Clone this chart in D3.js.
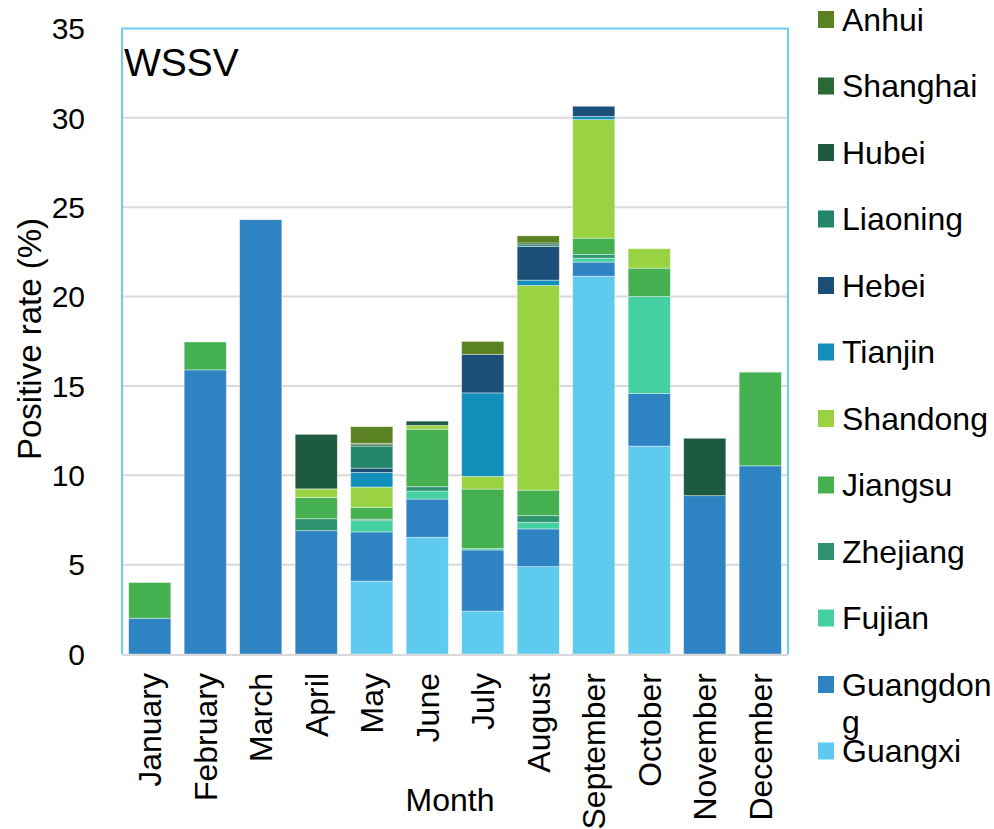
<!DOCTYPE html>
<html>
<head>
<meta charset="utf-8">
<script src="https://cdn.jsdelivr.net/npm/d3@7"></script>
<style>
  body { margin: 0; background: #fff; }
  text { font-family: "Liberation Sans", Arial, sans-serif; fill: #000; }
</style>
</head>
<body>
<svg id="chart" width="994" height="829"></svg>
<script>

// months on the x axis
var months = ["January", "February", "March", "April", "May", "June",
              "July", "August", "September", "October", "November", "December"];

// provinces, bottom of the stack first
var provinces = ["Guangxi", "Guangdong", "Fujian", "Zhejiang", "Jiangsu", "Shandong",
                 "Tianjin", "Hebei", "Liaoning", "Hubei", "Shanghai", "Anhui"];

var colors = ["#5ecbee", "#2e83c3", "#44d0a3", "#2e9470", "#44b050", "#99d343",
              "#138fbb", "#1c4f77", "#21866a", "#1e5a40", "#2a6b35", "#5b8222"];

// positive rate (%) per month, one array per province
var guangxi   = [0, 0, 0, 0, 4.08, 6.53, 2.40, 4.89, 21.14, 11.63, 0, 0];
var guangdong = [2.0, 15.9, 24.3, 6.9, 2.75, 2.14, 3.42, 2.11, 0.79, 2.94, 8.86, 10.53];
var fujian    = [0, 0, 0, 0, 0.63, 0.45, 0.08, 0.37, 0.22, 5.43, 0, 0];
var zhejiang  = [0, 0, 0, 0.67, 0.08, 0.24, 0, 0.37, 0.20, 0, 0, 0];
var jiangsu   = [2.0, 1.56, 0, 1.19, 0.67, 3.22, 3.33, 1.43, 0.92, 1.59, 0, 5.24];
var shandong  = [0, 0, 0, 0.48, 1.13, 0.21, 0.71, 11.45, 6.63, 1.09, 0, 0];
var tianjin   = [0, 0, 0, 0, 0.82, 0, 4.67, 0.30, 0.18, 0, 0, 0];
var hebei     = [0, 0, 0, 0, 0.24, 0, 2.16, 1.88, 0.57, 0, 0, 0];
var liaoning  = [0, 0, 0, 0, 1.23, 0, 0, 0.10, 0, 0, 0, 0];
var hubei     = [0, 0, 0, 3.05, 0.08, 0.24, 0, 0.10, 0, 0, 3.21, 0];
var shanghai  = [0, 0, 0, 0, 0.08, 0, 0, 0, 0, 0, 0, 0];
var anhui     = [0, 0, 0, 0, 0.93, 0, 0.72, 0.40, 0, 0, 0, 0];

var yTicks = [0, 5, 10, 15, 20, 25, 30, 35];

var seriesValues = [guangxi, guangdong, fujian, zhejiang, jiangsu, shandong,
                    tianjin, hebei, liaoning, hubei, shanghai, anhui];

// build rows for d3.stack
var rows = months.map(function (m, i) {
    var r = { month: m };
    provinces.forEach(function (p, j) { r[p] = seriesValues[j][i]; });
    return r;
});

var svg = d3.select("#chart");

// plot box (note: "top" is taken by window.top, so use other names)
var plotL = 122, plotR = 788, plotT = 28.5, plotB = 654;

var x = d3.scaleBand()
    .domain(months)
    .range([plotL, plotR])
    .paddingInner(0.24)
    .paddingOuter(0.12);

var y = d3.scaleLinear()
    .domain([0, 35])
    .range([plotB, plotT]);

var color = d3.scaleOrdinal().domain(provinces).range(colors);

// gridlines
svg.append("g")
    .selectAll("line")
    .data(yTicks.filter(function (t) { return t > 0 && t < 35; }))
    .enter()
    .append("line")
    .attr("x1", plotL).attr("x2", plotR)
    .attr("y1", function (d) { return y(d); })
    .attr("y2", function (d) { return y(d); })
    .attr("stroke", "#d9d9d9")
    .attr("stroke-width", 2);

// stacked bars
var stacked = d3.stack().keys(provinces)(rows);

svg.append("g")
    .selectAll("g")
    .data(stacked)
    .enter()
    .append("g")
    .attr("fill", function (d) { return color(d.key); })
    .selectAll("rect")
    .data(function (d) { return d.filter(function (s) { return s[1] - s[0] > 0; }); })
    .enter()
    .append("rect")
    .attr("x", function (d) { return x(d.data.month); })
    .attr("y", function (d) { return y(d[1]); })
    .attr("width", x.bandwidth())
    .attr("height", function (d) { return y(d[0]) - y(d[1]); })
    .attr("stroke", "#ffffff")
    .attr("stroke-width", 0.8)
    .attr("stroke-opacity", 0.5);

// plot border: light blue left/top/right, grey bottom axis
svg.append("path")
    .attr("d", "M" + plotL + "," + plotB + "V" + plotT + "H" + plotR + "V" + plotB)
    .attr("fill", "none")
    .attr("stroke", "#6ccdf0")
    .attr("stroke-width", 2);

svg.append("line")
    .attr("x1", plotL).attr("x2", plotR)
    .attr("y1", plotB + 1).attr("y2", plotB + 1)
    .attr("stroke", "#d9d9d9")
    .attr("stroke-width", 2);

// y tick labels
svg.append("g")
    .selectAll("text")
    .data(yTicks)
    .enter()
    .append("text")
    .attr("x", 85)
    .attr("y", function (d) { return y(d); })
    .attr("dy", "0.36em")
    .attr("text-anchor", "end")
    .style("font-size", "30px")
    .text(function (d) { return d; });

// x tick labels, rotated
svg.append("g")
    .selectAll("text")
    .data(months)
    .enter()
    .append("text")
    .attr("transform", function (d) {
        return "translate(" + (x(d) + x.bandwidth() / 2) + "," + 673 + ") rotate(-90)";
    })
    .attr("dy", "0.36em")
    .attr("text-anchor", "end")
    .style("font-size", "32px")
    .text(function (d) { return d; });

// axis titles
svg.append("text")
    .attr("transform", "translate(41,339) rotate(-90)")
    .attr("text-anchor", "middle")
    .style("font-size", "33px")
    .text("Positive rate (%)");

svg.append("text")
    .attr("x", 450)
    .attr("y", 811)
    .attr("text-anchor", "middle")
    .style("font-size", "32px")
    .text("Month");

svg.append("text")
    .attr("x", 124)
    .attr("y", 76)
    .style("font-size", "39px")
    .text("WSSV");

// legend, top entry is the top of the stack
var legendItems = provinces.slice().reverse();
var legend = svg.append("g")
    .selectAll("g")
    .data(legendItems)
    .enter()
    .append("g")
    .attr("transform", function (d, i) { return "translate(818," + (19.5 + i * 66.5) + ")"; });

legend.append("rect")
    .attr("x", 0).attr("y", -8.5)
    .attr("width", 16).attr("height", 17)
    .attr("fill", function (d) { return color(d); });

legend.append("text")
    .attr("x", 24)
    .attr("y", 11)
    .style("font-size", "32px")
    .each(function (d) {
        // wrap by characters when the name is wider than the space left
        var t = d3.select(this), maxW = 152;
        t.text(d);
        if (this.getComputedTextLength() <= maxW) return;
        t.text(null);
        var lines = [], cur = "";
        var probe = t.append("tspan");
        for (var k = 0; k < d.length; k++) {
            probe.text(cur + d[k]);
            if (probe.node().getComputedTextLength() > maxW && cur) {
                lines.push(cur);
                cur = d[k];
            } else {
                cur += d[k];
            }
        }
        lines.push(cur);
        probe.remove();
        lines.forEach(function (ln, li) {
            t.append("tspan").attr("x", 24).attr("dy", li === 0 ? 0 : 37).text(ln);
        });
    });

</script>
</body>
</html>
